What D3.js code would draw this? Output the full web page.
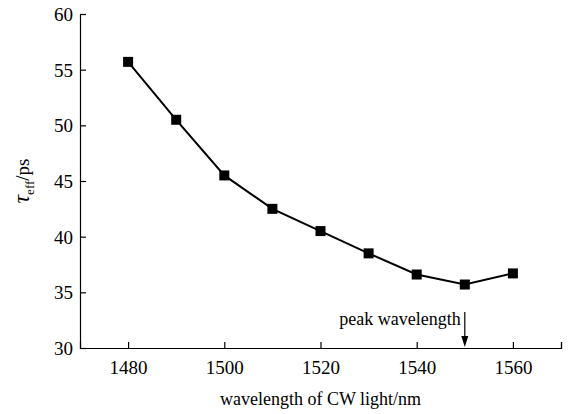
<!DOCTYPE html>
<html><head><meta charset="utf-8">
<script src="https://cdn.jsdelivr.net/npm/d3@7"></script>
<style>body{margin:0;background:#fff}svg{display:block}text{font-family:"Liberation Serif","Times New Roman",serif;fill:#000}</style>
</head><body><svg id="c" width="576" height="414"></svg>
<script>
const wavelengths = [1480,1490,1500,1510,1520,1530,1540,1550,1560];
const tauEff = [55.7,50.5,45.5,42.5,40.5,38.5,36.6,35.7,36.7];
const xTicks = [1480,1500,1520,1540,1560,1570];
const xTickLabels = ["1480","1500","1520","1540","1560",""];
const yTicks = [30,35,40,45,50,55,60];
const peakWavelength = 1550;

const svg = d3.select("#c");
const m = {l:80, r:15, t:14, b:66};
const W = 576, H = 414;
const x = d3.scaleLinear().domain([1470,1570]).range([m.l, W - m.r]);
const y = d3.scaleLinear().domain([30,60]).range([H - m.b, m.t]);

const xa = svg.append("g").attr("transform",`translate(0,${y(30)})`)
  .call(d3.axisBottom(x).tickValues(xTicks).tickSize(-6).tickPadding(13)
    .tickFormat((d,i)=>xTickLabels[i]));
const ya = svg.append("g").attr("transform",`translate(${x(1470)},0)`)
  .call(d3.axisLeft(y).tickValues(yTicks).tickSize(-6).tickPadding(7).tickFormat(d3.format("d")));
[xa,ya].forEach(a=>{
  a.attr("font-family",null).attr("font-size",null);
  a.select(".domain").attr("stroke","#000").attr("stroke-width",1.2);
  a.selectAll(".tick line").attr("stroke","#000").attr("stroke-width",1.2);
  a.selectAll("text").style("font-family",'"Liberation Serif","Times New Roman",serif').style("font-size","19px").attr("fill","#000");
});
ya.selectAll("text").attr("dy","0.35em");

const pts = wavelengths.map((w,i)=>[w,tauEff[i]]);
svg.append("path").datum(pts)
  .attr("fill","none").attr("stroke","#000").attr("stroke-width",2)
  .attr("d", d3.line().x(d=>x(d[0])).y(d=>y(d[1])));
svg.selectAll("rect.pt").data(pts).enter().append("rect")
  .attr("x",d=>x(d[0])-5).attr("y",d=>y(d[1])-5)
  .attr("width",10).attr("height",10).attr("fill","#000");

// peak wavelength annotation
const px = x(peakWavelength);
svg.append("line").attr("x1",px).attr("x2",px).attr("y1",y(30)-36).attr("y2",y(30)-6)
  .attr("stroke","#000").attr("stroke-width",1.2);
svg.append("path").attr("d",`M${px-3.5},${y(30)-12}L${px+3.5},${y(30)-12}L${px},${y(30)-1}Z`).attr("fill","#000");
svg.append("text").attr("x",px-4).attr("y",y(30)-23).attr("text-anchor","end")
  .style("font-size","18px").text("peak wavelength");

svg.append("text").attr("x",(x(1470)+x(1570))/2).attr("y",405).attr("text-anchor","middle")
  .style("font-size","18px").text("wavelength of CW light/nm");

const yl = svg.append("text").attr("transform",`translate(29,${(y(30)+y(60))/2}) rotate(-90)`)
  .attr("text-anchor","middle").style("font-size","19px");
yl.append("tspan").style("font-style","italic").style("font-size","24px").text("τ");
yl.append("tspan").attr("dy","5").style("font-size","13px").text("eff");
yl.append("tspan").attr("dy","-5").text("/ps");
</script></body></html>
